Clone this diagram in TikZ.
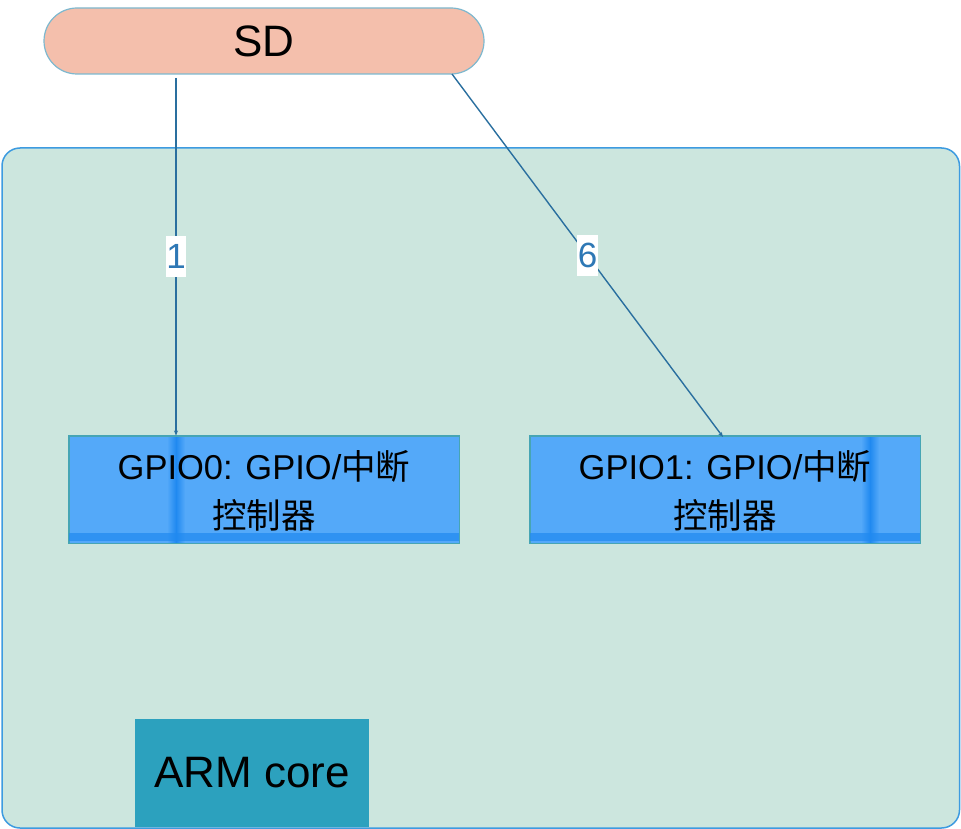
\documentclass[tikz,border=0pt]{standalone}
\usepackage{fontspec}
\setmainfont{Liberation Sans}
\newfontfamily\cjk{Noto Sans CJK SC}
\usetikzlibrary{arrows.meta}

\definecolor{sdfill}{RGB}{244,191,172}
\definecolor{sdline}{RGB}{125,184,207}
\definecolor{socfill}{RGB}{204,230,222}
\definecolor{socline}{RGB}{61,155,224}
\definecolor{gpiofill}{RGB}{84,169,249}
\definecolor{gpiodark}{RGB}{32,137,240}
\definecolor{gpioline}{RGB}{70,165,180}
\definecolor{armfill}{RGB}{44,161,190}
\definecolor{wire}{RGB}{42,111,159}
\definecolor{wirelabel}{RGB}{46,120,181}

\tikzset{
  sdbox/.style={draw=sdline, line width=1.2pt, fill=sdfill, rounded corners=33pt,
    minimum width=440pt, minimum height=66pt, inner sep=0pt,
    font=\fontsize{44}{50}\selectfont},
  socbox/.style={draw=socline, line width=1.5pt, fill=socfill, rounded corners=18pt},
  gpiobox/.style={draw=gpioline, line width=1pt, fill=gpiofill,
    minimum width=390pt, minimum height=107pt, inner sep=0pt},
  gpiotext/.style={align=center, font=\fontsize{34.5}{49}\selectfont},
  armbox/.style={fill=armfill, minimum width=234pt, minimum height=108pt, inner sep=0pt,
    font=\fontsize{44}{52}\selectfont},
  wirestyle/.style={draw=wire, line width=1.4pt, -{Stealth[length=5pt,width=4pt]}},
  wirelab/.style={fill=white, text=wirelabel, inner xsep=0.5pt, inner ysep=0pt,
    minimum height=41pt, font=\fontsize{35}{40}\selectfont}
}

\begin{document}
\begin{tikzpicture}[x=1pt,y=-1pt]
\useasboundingbox (0,0) rectangle (961,829);

% SoC container
\draw[socbox] (2,148) rectangle (959.5,828);

% SD card
\node[sdbox] (sd) at (264,41) {SD};

% GPIO controllers
\node[gpiobox] (gpio0) at (264,489.5) {};
\node[gpiobox] (gpio1) at (725,489.5) {};

% darker stripes and bottom bands inside the GPIO boxes
\foreach \b/\sx in {gpio0/176, gpio1/870}{
  \shade[left color=gpiofill, right color=gpiodark] (\sx-9,437) rectangle (\sx,542.5);
  \shade[left color=gpiodark, right color=gpiofill] (\sx,437) rectangle (\sx+9,542.5);
  \fill[gpiodark, opacity=0.7] ([yshift=11pt]\b.south west) rectangle ([yshift=3pt]\b.south east);
  \draw[gpioline, line width=1pt] (\b.south west) rectangle (\b.north east);
}
\node[gpiotext] (t0) at ([yshift=-1pt]gpio0.center)
  {GPIO0: GPIO/{\cjk 中断}\\{\cjk 控制器}};
\node[gpiotext] (t1) at ([yshift=-1pt]gpio1.center)
  {GPIO1: GPIO/{\cjk 中断}\\{\cjk 控制器}};

% ARM core
\node[armbox] (arm) at (252,773) {ARM core};

% connections
\coordinate (s1) at (176,78);
\coordinate (s6) at (452,74);
\coordinate (e6) at (723,437);
\draw[wirestyle] (s1) -- node[wirelab] (l1) {1} (gpio0.north -| s1);
\draw[wirestyle] (s6) -- node[wirelab] (l6) {6} (e6);
\end{tikzpicture}
\end{document}
